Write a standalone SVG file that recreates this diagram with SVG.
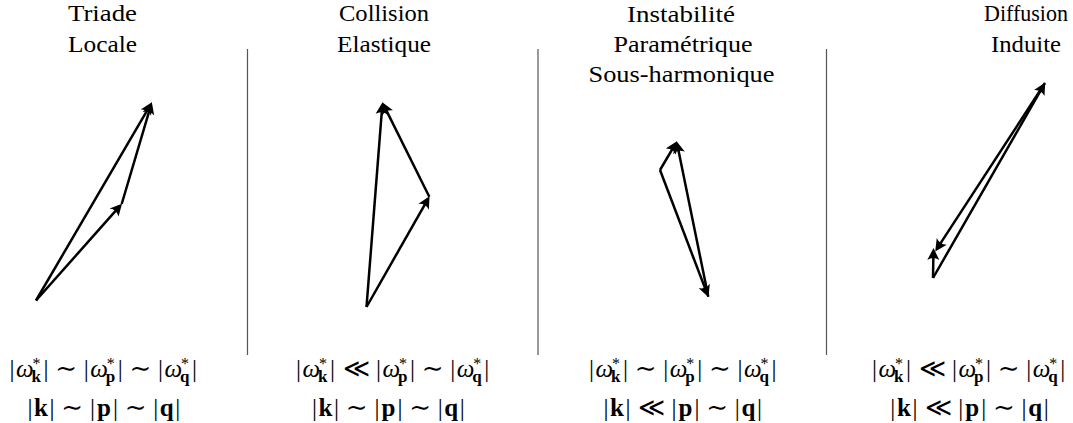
<svg xmlns="http://www.w3.org/2000/svg" width="1073" height="423" viewBox="0 0 1073 423">
<style>
.t{font-family:"Liberation Serif","DejaVu Serif",serif;font-size:23px;fill:#000;text-anchor:middle}
.m{font-family:"Liberation Serif","DejaVu Serif",serif;font-size:25px;fill:#000}
.it{font-style:italic}
.sup{font-size:16px}
.sub{font-size:17px;font-weight:bold}
.b{font-weight:bold}
.r{font-family:"DejaVu Serif",serif;font-size:26px}
.ll{font-family:"DejaVu Serif",serif;font-size:26px}
.sep{stroke:#555;stroke-width:1.2;fill:none}
.v{stroke:#000;stroke-width:2.5;fill:none;marker-end:url(#ah)}
</style>
<defs>
<marker id="ah" viewBox="-14 -8 18 16" refX="-2.5" refY="0" markerWidth="18" markerHeight="16" markerUnits="userSpaceOnUse" orient="auto">
<path d="M0.5,0 L-11.5,-6 Q-7.5,0 -11.5,6 Z" fill="#000"/>
</marker>
</defs>

<g id="separators">
<line class="sep" x1="247.5" y1="49" x2="247.5" y2="355"/>
<line class="sep" x1="538" y1="49" x2="538" y2="355"/>
<line class="sep" x1="826.5" y1="49" x2="826.5" y2="355"/>
</g>

<g id="connectors">
<line class="v" x1="36" y1="300.5" x2="120.04" y2="205.87"/>
<line class="v" x1="121.7" y1="204" x2="150.99" y2="105.1"/>
<line class="v" x1="36" y1="300.5" x2="150.44" y2="104.86"/>

<line class="v" x1="366.5" y1="307" x2="428.06" y2="198.87"/>
<line class="v" x1="429.3" y1="196.7" x2="383.6" y2="104.9"/>
<line class="v" x1="366.5" y1="307" x2="382.3" y2="105.2"/>

<line class="v" x1="660" y1="170" x2="675.43" y2="143.85"/>
<line class="v" x1="660" y1="170" x2="707.41" y2="294.37"/>
<line class="v" x1="708.3" y1="296.7" x2="677.2" y2="144.15"/>

<line class="v" x1="933" y1="278" x2="1043.75" y2="85.17"/>
<line class="v" x1="1045" y1="83" x2="936.87" y2="248.9"/>
<line class="v" x1="933" y1="278" x2="933.46" y2="251"/>
</g>

<g id="panel-triade">
<text class="t" x="102.5" y="21" textLength="69" lengthAdjust="spacingAndGlyphs">Triade</text>
<text class="t" x="102.5" y="52" textLength="69" lengthAdjust="spacingAndGlyphs">Locale</text>
<text class="m"><tspan x="9.5" y="377">|</tspan><tspan class="it" x="16" y="377">ω</tspan><tspan class="sup" x="32.5" y="369">*</tspan><tspan class="sub" x="31.5" y="382">k</tspan><tspan x="43.5" y="377">|</tspan><tspan class="r" x="55.25" y="377">∼</tspan><tspan x="83.8" y="377">|</tspan><tspan class="it" x="90.3" y="377">ω</tspan><tspan class="sup" x="106.8" y="369">*</tspan><tspan class="sub" x="105.8" y="382">p</tspan><tspan x="117.8" y="377">|</tspan><tspan class="r" x="129.55" y="377">∼</tspan><tspan x="158.1" y="377">|</tspan><tspan class="it" x="164.6" y="377">ω</tspan><tspan class="sup" x="181.1" y="369">*</tspan><tspan class="sub" x="180.1" y="382">q</tspan><tspan x="192.1" y="377">|</tspan></text>
<text class="m"><tspan x="27.5" y="416">|</tspan><tspan class="b" x="34.1" y="416">k</tspan><tspan x="49.6" y="416">|</tspan><tspan class="r" x="61.35" y="416">∼</tspan><tspan x="89.9" y="416">|</tspan><tspan class="b" x="96.95" y="416">p</tspan><tspan x="112.9" y="416">|</tspan><tspan class="r" x="124.65" y="416">∼</tspan><tspan x="153.2" y="416">|</tspan><tspan class="b" x="159.8" y="416">q</tspan><tspan x="175.3" y="416">|</tspan></text>
</g>

<g id="panel-collision">
<text class="t" x="384" y="21" textLength="90" lengthAdjust="spacingAndGlyphs">Collision</text>
<text class="t" x="384" y="52" textLength="94" lengthAdjust="spacingAndGlyphs">Elastique</text>
<text class="m"><tspan x="296" y="377">|</tspan><tspan class="it" x="302.5" y="377">ω</tspan><tspan class="sup" x="319" y="369">*</tspan><tspan class="sub" x="318" y="382">k</tspan><tspan x="330" y="377">|</tspan><tspan class="ll" x="342.5" y="377">≪</tspan><tspan x="375.9" y="377">|</tspan><tspan class="it" x="382.4" y="377">ω</tspan><tspan class="sup" x="398.9" y="369">*</tspan><tspan class="sub" x="397.9" y="382">p</tspan><tspan x="409.9" y="377">|</tspan><tspan class="r" x="421.65" y="377">∼</tspan><tspan x="450.2" y="377">|</tspan><tspan class="it" x="456.7" y="377">ω</tspan><tspan class="sup" x="473.2" y="369">*</tspan><tspan class="sub" x="472.2" y="382">q</tspan><tspan x="484.2" y="377">|</tspan></text>
<text class="m"><tspan x="312" y="416">|</tspan><tspan class="b" x="318.6" y="416">k</tspan><tspan x="334.1" y="416">|</tspan><tspan class="r" x="345.85" y="416">∼</tspan><tspan x="374.4" y="416">|</tspan><tspan class="b" x="381.45" y="416">p</tspan><tspan x="397.4" y="416">|</tspan><tspan class="r" x="409.15" y="416">∼</tspan><tspan x="437.7" y="416">|</tspan><tspan class="b" x="444.3" y="416">q</tspan><tspan x="459.8" y="416">|</tspan></text>
</g>

<g id="panel-instabilite">
<text class="t" x="681" y="21.5" textLength="108" lengthAdjust="spacingAndGlyphs">Instabilité</text>
<text class="t" x="683" y="52" textLength="139" lengthAdjust="spacingAndGlyphs">Paramétrique</text>
<text class="t" x="681.5" y="82" textLength="186" lengthAdjust="spacingAndGlyphs">Sous-harmonique</text>
<text class="m"><tspan x="589" y="377">|</tspan><tspan class="it" x="595.5" y="377">ω</tspan><tspan class="sup" x="612" y="369">*</tspan><tspan class="sub" x="611" y="382">k</tspan><tspan x="623" y="377">|</tspan><tspan class="r" x="634.75" y="377">∼</tspan><tspan x="663.3" y="377">|</tspan><tspan class="it" x="669.8" y="377">ω</tspan><tspan class="sup" x="686.3" y="369">*</tspan><tspan class="sub" x="685.3" y="382">p</tspan><tspan x="697.3" y="377">|</tspan><tspan class="r" x="709.05" y="377">∼</tspan><tspan x="737.6" y="377">|</tspan><tspan class="it" x="744.1" y="377">ω</tspan><tspan class="sup" x="760.6" y="369">*</tspan><tspan class="sub" x="759.6" y="382">q</tspan><tspan x="771.6" y="377">|</tspan></text>
<text class="m"><tspan x="603.5" y="416">|</tspan><tspan class="b" x="610.1" y="416">k</tspan><tspan x="625.6" y="416">|</tspan><tspan class="ll" x="638" y="416">≪</tspan><tspan x="671.5" y="416">|</tspan><tspan class="b" x="678.55" y="416">p</tspan><tspan x="694.5" y="416">|</tspan><tspan class="r" x="706.25" y="416">∼</tspan><tspan x="734.8" y="416">|</tspan><tspan class="b" x="741.4" y="416">q</tspan><tspan x="756.9" y="416">|</tspan></text>
</g>

<g id="panel-diffusion">
<text class="t" x="1026" y="21" textLength="84" lengthAdjust="spacingAndGlyphs">Diffusion</text>
<text class="t" x="1026" y="52" textLength="70" lengthAdjust="spacingAndGlyphs">Induite</text>
<text class="m"><tspan x="872" y="377">|</tspan><tspan class="it" x="878.5" y="377">ω</tspan><tspan class="sup" x="895" y="369">*</tspan><tspan class="sub" x="894" y="382">k</tspan><tspan x="906" y="377">|</tspan><tspan class="ll" x="918.5" y="377">≪</tspan><tspan x="951.9" y="377">|</tspan><tspan class="it" x="958.4" y="377">ω</tspan><tspan class="sup" x="974.9" y="369">*</tspan><tspan class="sub" x="973.9" y="382">p</tspan><tspan x="985.9" y="377">|</tspan><tspan class="r" x="997.65" y="377">∼</tspan><tspan x="1026.2" y="377">|</tspan><tspan class="it" x="1032.7" y="377">ω</tspan><tspan class="sup" x="1049.2" y="369">*</tspan><tspan class="sub" x="1048.2" y="382">q</tspan><tspan x="1060.2" y="377">|</tspan></text>
<text class="m"><tspan x="890.3" y="416">|</tspan><tspan class="b" x="896.9" y="416">k</tspan><tspan x="912.4" y="416">|</tspan><tspan class="ll" x="924.8" y="416">≪</tspan><tspan x="958.3" y="416">|</tspan><tspan class="b" x="965.35" y="416">p</tspan><tspan x="981.3" y="416">|</tspan><tspan class="r" x="993.05" y="416">∼</tspan><tspan x="1021.6" y="416">|</tspan><tspan class="b" x="1028.2" y="416">q</tspan><tspan x="1043.7" y="416">|</tspan></text>
</g>
</svg>
